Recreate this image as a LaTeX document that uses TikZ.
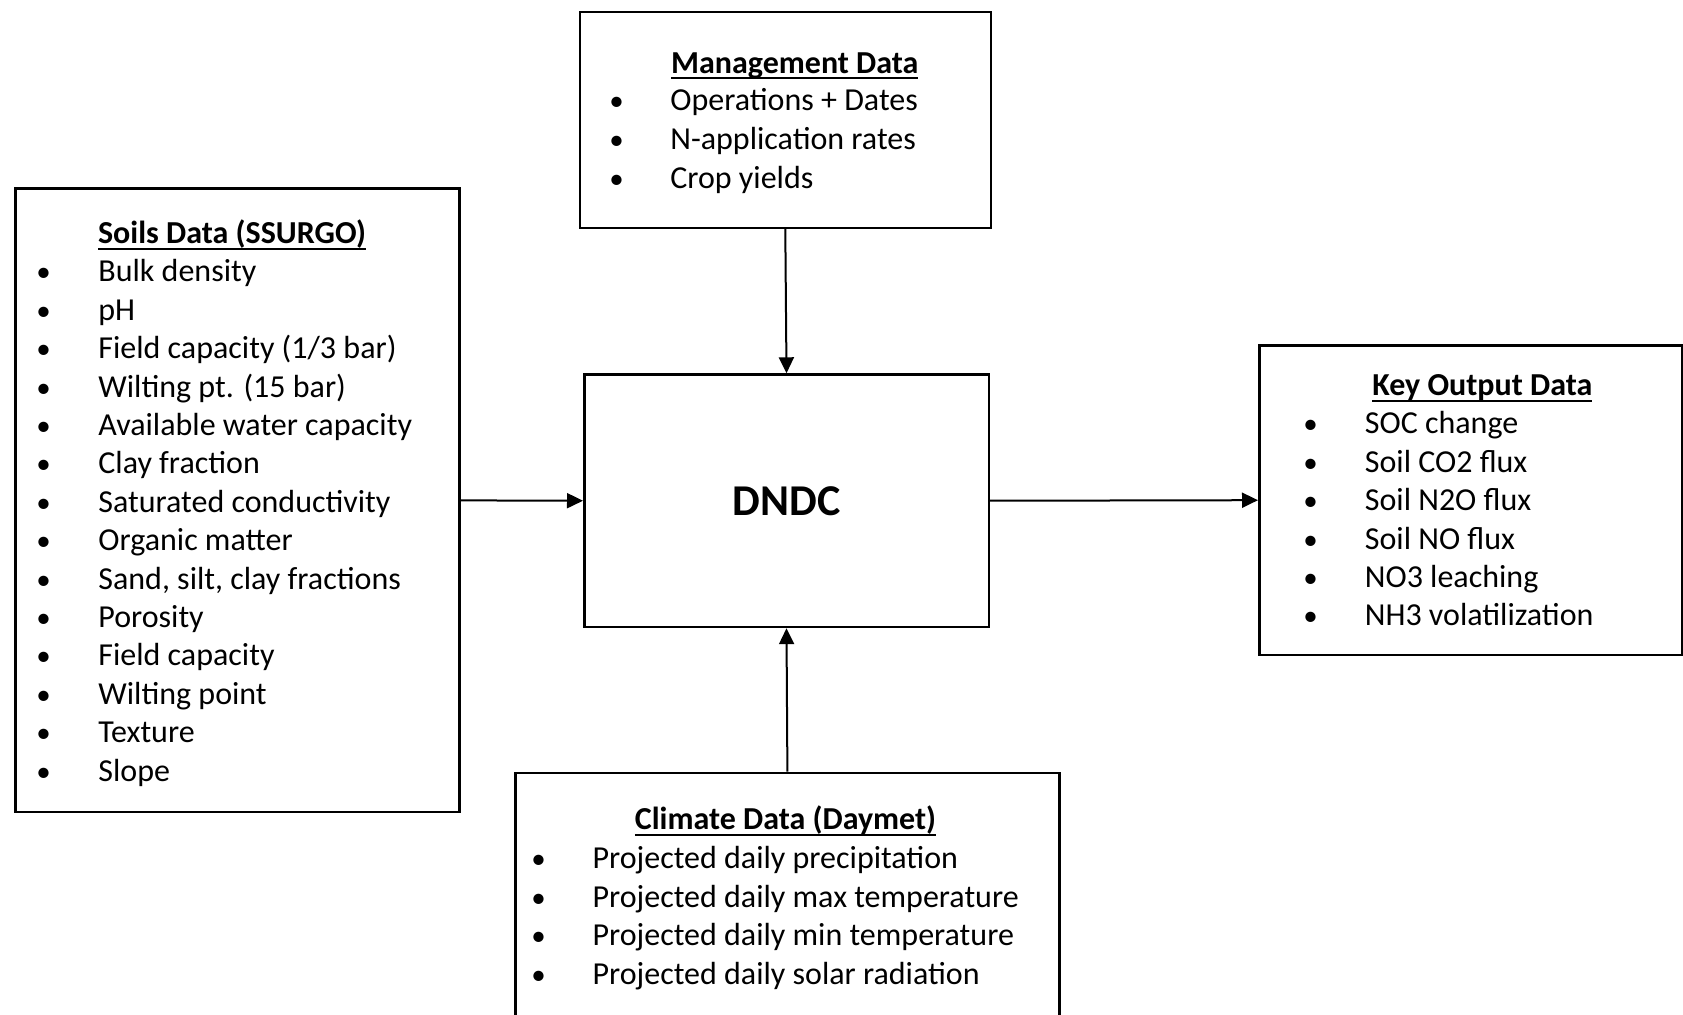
\documentclass[tikz,border=0pt]{standalone}
\usepackage{fontspec}
\setmainfont{Carlito}
\usetikzlibrary{arrows.meta}
\newcommand\hdul[1]{\setbox0\hbox{#1}\rlap{\rule[-2.9pt]{\wd0}{1pt}}\box0}
\begin{document}
\begin{tikzpicture}[x=0.5pt,y=-0.5pt,
  box/.style={draw, line width=1.25pt, inner sep=0pt, anchor=north west},
  itm/.style={anchor=base west, inner sep=0pt, font=\fontsize{16}{19.2}\selectfont},
  bul/.style={anchor=base, inner sep=0pt, font=\fontsize{14.5}{19.2}\selectfont},
  hd/.style={anchor=base west, inner sep=0pt, font=\fontsize{16}{19.2}\selectfont\bfseries},
  arr/.style={line width=1pt, -{Triangle[length=8pt,width=7.5pt]}}]
\clip (0,0) rectangle (1683,1015);
\fill[white] (0,0) rectangle (1683,1015);

% boxes
\node[box, minimum width=222pt, minimum height=311.85pt] (soils) at (14,187.3) {};
\node[box, minimum width=205.55pt, minimum height=108pt] (mgmt) at (578.5,10.7) {};
\node[box, minimum width=202.25pt, minimum height=126.2pt,
      font=\fontsize{22}{26}\selectfont\bfseries] (dndc) at (583,373.3) {DNDC};
\node[box, minimum width=211.5pt, minimum height=154.65pt] (out) at (1258,344.3) {};
\node[box, minimum width=272.15pt, minimum height=134.15pt] (clim) at (514,771.7) {};

% soils
\node[hd] (soilshd) at (97.7,244) {\hdul{Soils Data (SSURGO)}};
\foreach \t [count=\i from 0] in {Bulk density, pH, {Field capacity (1/3 bar)}, {Wilting pt. (15 bar)}, Available water capacity, Clay fraction, Saturated conductivity, Organic matter, {Sand, silt, clay fractions}, Porosity, Field capacity, Wilting point, Texture, Slope}{
  \node[bul] (sb\i) at (43.5,282+38.4*\i) {\textbullet};
  \node[itm] (si\i) at (98,282+38.4*\i) {\t};
}

% management
\node[hd] (mgmthd) at (670.8,73.5) {\hdul{Management Data}};
\foreach \t [count=\i from 0] in {Operations + Dates, N-application rates, Crop yields}{
  \node[bul] (mb\i) at (616.5,111+38.6*\i) {\textbullet};
  \node[itm] (mi\i) at (670,111+38.6*\i) {\t};
}

% output
\node[hd] (outhd) at (1372,396) {\hdul{Key Output Data}};
\foreach \t [count=\i from 0] in {SOC change, Soil CO2 flux, Soil N2O flux, Soil NO flux, NO3 leaching, NH3 volatilization}{
  \node[bul] (ob\i) at (1310.5,434+38.4*\i) {\textbullet};
  \node[itm] (oi\i) at (1364.5,434+38.4*\i) {\t};
}

% climate
\node[hd] (climhd) at (634.5,830) {\hdul{Climate Data (Daymet)}};
\foreach \t [count=\i from 0] in {Projected daily precipitation, Projected daily max temperature, Projected daily min temperature, Projected daily solar radiation}{
  \node[bul] (cb\i) at (538.5,868.5+38.6*\i) {\textbullet};
  \node[itm] (ci\i) at (592.2,868.5+38.6*\i) {\t};
}

% arrows
\draw[arr] (mgmt.south) -- (dndc.north);
\draw[arr] (clim.north) -- (dndc.south);
\draw[arr] (soils.east) -- (dndc.west);
\draw[arr] (dndc.east) -- (out.west);
\end{tikzpicture}
\end{document}
